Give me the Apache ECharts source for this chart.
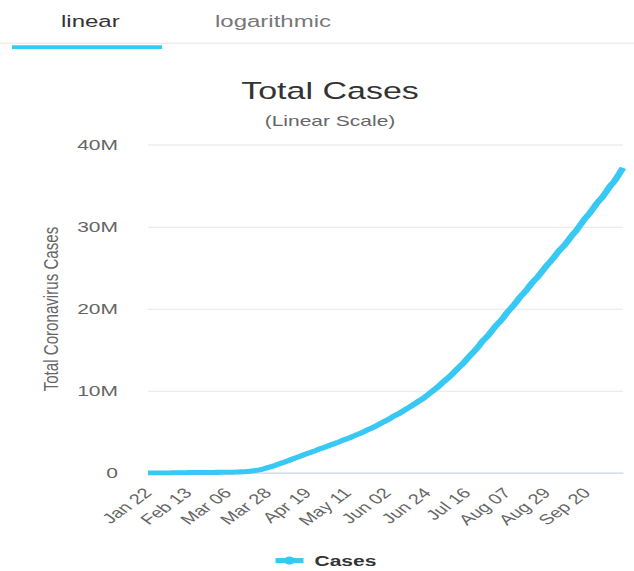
<!DOCTYPE html>
<html>
<head>
<meta charset="utf-8">
<script src="https://cdn.jsdelivr.net/npm/echarts@6/dist/echarts.min.js"></script>
<style>
html,body{margin:0;padding:0;background:#fff;overflow:hidden;width:634px;height:571px;}
/* the reference picture is squashed vertically: draw at 634x793 and squash to 571 */
#c{width:634px;height:793px;transform:scaleY(0.72006);transform-origin:0 0;}
</style>
</head>
<body>
<div id="c"></div>
<script>
// Categories: daily dates from Jan 22 to Oct 10
const months = ["Jan","Feb","Mar","Apr","May","Jun","Jul","Aug","Sep","Oct"];
const monthDays = [31,29,31,30,31,30,31,31,30,31];
const categories = [];
for (let m = 0; m < months.length; m++) {
  const start = m === 0 ? 22 : 1;
  const end = m === 9 ? 10 : monthDays[m];
  for (let d = start; d <= end; d++) categories.push(months[m] + " " + (d < 10 ? "0" + d : d));
}

// Total cases (millions), daily
const jan = [0.00058,0.00085,0.00094,0.0014,0.0021,0.0029,0.0055,0.0061,0.0082,0.0099];
const feb = [0.0121,0.0168,0.0199,0.0239,0.0276,0.0308,0.0346,0.0371,0.0401,0.0426,0.0446,0.0458,0.0604,0.0668,0.0691,0.0712,0.0732,0.0752,0.0757,0.0762,0.0769,0.0788,0.0790,0.0799,0.0808,0.0817,0.0830,0.0843,0.0860];
const mar = [0.0880,0.0903,0.0928,0.0951,0.0979,0.1016,0.1055,0.1096,0.1140,0.1190,0.1265,0.1348,0.1458,0.1567,0.1694,0.1836,0.2011,0.2206,0.2493,0.2819,0.3091,0.3428,0.3785,0.4183,0.4674,0.5297,0.5936,0.6608,0.7205,0.7827,0.8597];
const apr = [0.9355,1.0136,1.0957,1.1753,1.2494,1.3211,1.3965,1.4838,1.5671,1.6531,1.7339,1.8358,1.9053,1.9759,2.0566,2.1526,2.2402,2.3172,2.4013,2.4725,2.5494,2.6239,2.7104,2.7971,2.8913,2.9702,3.0416,3.1177,3.1955,3.2779];
const may = [3.3681,3.4525,3.5298,3.6089,3.6917,3.7774,3.8683,3.9612,4.0468,4.1229,4.1977,4.2846,4.3722,4.4713,4.5694,4.6626,4.7474,4.8370,4.9353,5.0425,5.1485,5.2562,5.3597,5.4591,5.5527,5.6536,5.7722,5.8902,6.0137,6.1386,6.2531];
const jun = [6.3614,6.4786,6.6017,6.7307,6.8616,6.9910,7.1032,7.2153,7.3390,7.4733,7.6111,7.7471,7.8828,8.0090,8.1409,8.2854,8.4274,8.5677,8.7300,8.8684,8.9960,9.1366,9.3028,9.4722,9.6496,9.8399,10.0122,10.1762,10.3426,10.5195];
const jul = [10.7245,10.9322,11.1335,11.3182,11.5053,11.6812,11.8943,12.1095,12.3403,12.5699,12.7851,12.9910,13.2105,13.4284,13.6617,13.9137,14.1655,14.4107,14.6385,14.8593,15.1003,15.3764,15.6598,15.9462,16.2015,16.4185,16.6437,16.8921,17.1536,17.4387,17.7291];
const aug = [17.9911,18.2178,18.4431,18.6988,18.9747,19.2626,19.5540,19.8149,20.0465,20.2804,20.5452,20.8257,21.1139,21.4027,21.6514,21.8785,22.1142,22.3927,22.6734,22.9486,23.2270,23.4790,23.6953,23.9314,24.1970,24.4827,24.7669,25.0543,25.3139,25.5555,25.8057];
const sep = [26.0663,26.3349,26.6148,26.9077,27.1727,27.3945,27.6253,27.8624,28.1518,28.4330,28.7288,29.0128,29.2591,29.4979,29.8074,30.1109,30.4089,30.7333,31.0244,31.2698,31.5340,31.8101,32.1009,32.3990,32.7169,33.0058,33.2565,33.4859,33.7669,34.0725];
const oct = [34.3847,34.7059,35.0073,35.2581,35.5292,35.8283,36.1710,36.5233,36.8806,37.2158];
const cases = [].concat(jan, feb, mar, apr, may, jun, jul, aug, sep, oct);

const yTicks = ["0","10M","20M","30M","40M"];
const tabs = ["linear","logarithmic"];

const FONT = 'Liberation Sans, Arial, sans-serif';
const chart = echarts.init(document.getElementById('c'), null, {renderer:'svg', width:634, height:793});
chart.setOption({
  animation: false,
  backgroundColor: '#fff',
  textStyle: {fontFamily: FONT},
  title: {
    text: 'Total Cases',
    subtext: '(Linear Scale)',
    left: 325,
    textAlign: 'center',
    top: 104,
    itemGap: 14,
    textStyle: {fontSize: 34, fontWeight: 'normal', color: '#333', fontFamily: FONT},
    subtextStyle: {fontSize: 21, color: '#666', fontFamily: FONT}
  },
  graphic: [
    {type:'rect', shape:{x:0, y:59, width:634, height:2}, style:{fill:'#eeeeee'}},
    {type:'rect', shape:{x:12, y:63, width:150, height:5}, style:{fill:'#33ccf2'}},
    {type:'text', x: 61, y: 29, style:{text: tabs[0], fontSize: 24, fill:'#333', fontFamily: FONT, verticalAlign:'middle'}},
    {type:'text', x: 215, y: 29, style:{text: tabs[1], fontSize: 24, fill:'#777', fontFamily: FONT, verticalAlign:'middle'}}
  ],
  legend: {
    top: 763,
    left: 267,
    itemWidth: 28,
    itemHeight: 14,
    lineStyle: {width: 7},
    textStyle: {fontSize: 21, fontWeight: 'bold', color: '#333', fontFamily: FONT, padding: [0,0,0,6]},
    data: ['Cases']
  },
  grid: {left: 148, right: 11, top: 201.4, bottom: 136},
  xAxis: {
    type: 'category',
    data: categories,
    boundaryGap: false,
    axisLine: {lineStyle: {color: '#ccd6eb', width: 1.5}},
    axisTick: {show: false},
    axisLabel: {interval: 21, rotate: 45, fontSize: 20, color: '#666', margin: 24, fontFamily: FONT}
  },
  yAxis: {
    type: 'value',
    min: 0, max: 40, interval: 10,
    name: 'Total Coronavirus Cases',
    nameLocation: 'middle',
    nameGap: 87,
    nameTextStyle: {fontSize: 21, color: '#666', fontFamily: FONT},
    axisLine: {show: false},
    axisTick: {show: false},
    splitLine: {lineStyle: {color: '#e6e6e6', width: 1.4}},
    axisLabel: {fontSize: 21, color: '#666', margin: 30, fontFamily: FONT, formatter: v => yTicks[v/10]}
  },
  series: [{
    name: 'Cases',
    type: 'line',
    data: cases,
    showSymbol: false,
    symbol: 'circle',
    symbolSize: 12,
    color: '#38c8f4',
    lineStyle: {width: 7, color: '#38c8f4'}
  }]
});
</script>
</body>
</html>
